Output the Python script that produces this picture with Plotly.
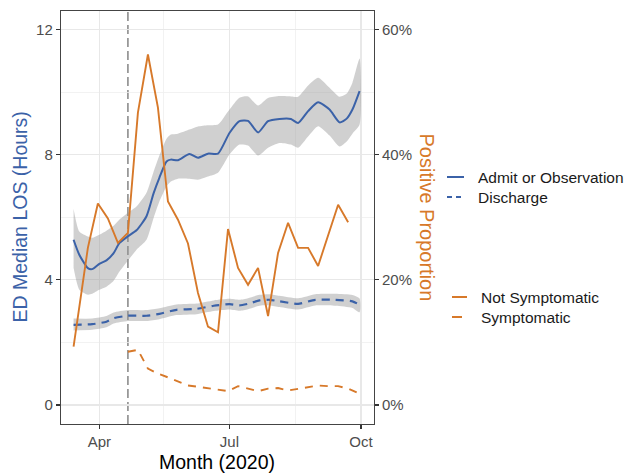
import plotly.graph_objects as go

# ---------------- data ----------------
adm_dates = ["2020-03-14", "2020-03-18", "2020-03-24", "2020-03-27", "2020-04-01", "2020-04-06",
             "2020-04-11", "2020-04-15", "2020-04-21", "2020-04-27", "2020-05-04", "2020-05-09",
             "2020-05-13", "2020-05-18", "2020-05-21", "2020-05-26", "2020-06-03", "2020-06-09",
             "2020-06-16", "2020-06-23", "2020-07-01", "2020-07-08", "2020-07-14", "2020-07-21",
             "2020-07-28", "2020-08-05", "2020-08-13", "2020-08-18", "2020-08-25", "2020-09-01",
             "2020-09-09", "2020-09-16", "2020-09-21", "2020-09-25", "2020-09-30"]
adm_med = [5.28, 4.80, 4.37, 4.34, 4.51, 4.62, 4.85, 5.17, 5.39, 5.58, 6.03, 6.77, 7.26, 7.78, 7.84,
           7.82, 8.02, 7.90, 8.03, 8.03, 8.69, 9.07, 9.08, 8.71, 9.07, 9.14, 9.14, 9.01, 9.39, 9.67,
           9.44, 9.03, 9.15, 9.44, 10.03]
adm_hi = [6.27, 5.54, 5.38, 5.34, 5.44, 5.57, 5.73, 5.92, 6.14, 6.34, 6.78, 7.46, 7.97, 8.51, 8.64,
          8.67, 8.80, 8.90, 8.94, 8.96, 9.44, 9.82, 9.86, 9.57, 9.81, 9.87, 9.86, 9.85, 10.21, 10.46,
          10.14, 9.85, 9.95, 10.30, 11.07]
adm_lo = [4.38, 3.68, 3.52, 3.55, 3.68, 3.78, 3.97, 4.26, 4.61, 4.96, 5.28, 5.98, 6.50, 6.98, 7.14,
          7.23, 7.23, 7.20, 7.30, 7.42, 8.00, 8.32, 8.29, 7.97, 8.22, 8.37, 8.32, 8.22, 8.58, 8.91,
          8.61, 8.26, 8.42, 8.67, 8.96]

dis_dates = ["2020-03-14", "2020-03-27", "2020-04-06", "2020-04-11", "2020-04-21", "2020-05-04",
             "2020-05-13", "2020-05-25", "2020-06-08", "2020-06-20", "2020-07-01", "2020-07-08",
             "2020-07-14", "2020-07-22", "2020-07-29", "2020-08-05", "2020-08-18", "2020-08-30",
             "2020-09-13", "2020-09-25", "2020-09-30"]
dis_med = [2.56, 2.58, 2.66, 2.77, 2.85, 2.85, 2.91, 3.04, 3.07, 3.17, 3.22, 3.18, 3.23, 3.34, 3.36,
           3.31, 3.23, 3.36, 3.36, 3.31, 3.20]
dis_hi = [2.76, 2.76, 2.84, 2.95, 3.03, 3.03, 3.09, 3.21, 3.24, 3.34, 3.39, 3.36, 3.41, 3.52, 3.54,
          3.49, 3.41, 3.54, 3.55, 3.51, 3.40]
dis_lo = [2.38, 2.40, 2.48, 2.60, 2.68, 2.68, 2.74, 2.87, 2.90, 3.00, 3.05, 3.01, 3.06, 3.17, 3.18,
          3.13, 3.05, 3.18, 3.17, 3.10, 2.96]

ns_dates = ["2020-03-14", "2020-03-24", "2020-03-31", "2020-04-07", "2020-04-14", "2020-04-21",
            "2020-04-28", "2020-05-05", "2020-05-12", "2020-05-19", "2020-05-26", "2020-06-02",
            "2020-06-09", "2020-06-16", "2020-06-23", "2020-06-30", "2020-07-07", "2020-07-14",
            "2020-07-21", "2020-07-28", "2020-08-04", "2020-08-11", "2020-08-18", "2020-08-25",
            "2020-09-01", "2020-09-08", "2020-09-15", "2020-09-22"]
ns_prop = [0.093, 0.251, 0.322, 0.298, 0.259, 0.275, 0.467, 0.560, 0.475, 0.325, 0.296, 0.258,
           0.179, 0.125, 0.116, 0.281, 0.219, 0.192, 0.219, 0.142, 0.243, 0.291, 0.251, 0.251,
           0.222, 0.270, 0.320, 0.292]

sy_dates = ["2020-04-21", "2020-04-28", "2020-05-05", "2020-05-12", "2020-05-19", "2020-05-26",
            "2020-06-02", "2020-06-09", "2020-06-16", "2020-06-23", "2020-06-30", "2020-07-07",
            "2020-07-14", "2020-07-21", "2020-07-28", "2020-08-04", "2020-08-11", "2020-08-18",
            "2020-08-25", "2020-09-01", "2020-09-08", "2020-09-15", "2020-09-22", "2020-09-29"]
sy_prop = [0.085, 0.088, 0.058, 0.050, 0.044, 0.037, 0.031, 0.029, 0.027, 0.025, 0.022, 0.030,
           0.026, 0.022, 0.026, 0.027, 0.023, 0.026, 0.028, 0.031, 0.030, 0.030, 0.026, 0.019]

x_tickvals = ["2020-04-01", "2020-07-01", "2020-10-01"]
x_ticktext = ["Apr", "Jul", "Oct"]
x_minor = ["2020-05-16", "2020-08-16"]
y_ticks = [0, 4, 8, 12]
y_minor = [2, 6, 10]
y2_ticks = [0, 0.2, 0.4, 0.6]
y2_ticktext = ["0%", "20%", "40%", "60%"]
cutoff_date = "2020-04-21"

BLUE = "#3B62A8"
ORANGE = "#D7792A"
BAND = "rgba(150,150,150,0.45)"
FONT = "Liberation Sans, Arial, sans-serif"

fig = go.Figure()

# ribbons
fig.add_trace(go.Scatter(x=adm_dates + adm_dates[::-1], y=adm_hi + adm_lo[::-1], fill="toself",
                         fillcolor=BAND, line=dict(width=0, shape="spline", smoothing=0.6),
                         mode="lines", hoverinfo="skip", showlegend=False))
fig.add_trace(go.Scatter(x=dis_dates + dis_dates[::-1], y=dis_hi + dis_lo[::-1], fill="toself",
                         fillcolor=BAND, line=dict(width=0, shape="spline", smoothing=0.6),
                         mode="lines", hoverinfo="skip", showlegend=False))
# blue lines
fig.add_trace(go.Scatter(x=adm_dates, y=adm_med, mode="lines", name="Admit or Observation",
                         line=dict(color=BLUE, width=2, shape="spline", smoothing=0.6),
                         showlegend=False))
fig.add_trace(go.Scatter(x=dis_dates, y=dis_med, mode="lines", name="Discharge",
                         line=dict(color=BLUE, width=2.2, dash="8px,6px", shape="spline", smoothing=0.6),
                         showlegend=False))
# orange lines on secondary axis
fig.add_trace(go.Scatter(x=ns_dates, y=ns_prop, mode="lines", name="Not Symptomatic", yaxis="y2",
                         line=dict(color=ORANGE, width=1.9), showlegend=False))
fig.add_trace(go.Scatter(x=sy_dates, y=sy_prop, mode="lines", name="Symptomatic", yaxis="y2",
                         line=dict(color=ORANGE, width=1.9, dash="8px,7px"), showlegend=False))

# plot area: x 61..374 px, y 11..424 px
L, R, T, B = 61, 374, 11, 424
W, H = R - L, B - T


def px(xp):
    return (xp - L) / W


def py(yp):
    return (B - yp) / H


shapes = [
    dict(type="line", xref="x", yref="paper", x0=cutoff_date, x1=cutoff_date, y0=0, y1=1,
         line=dict(color="#8C8C8C", width=1.6, dash="9px,4px"), layer="between"),
]
# manual legend swatches
legend_items = [
    (447, 464, 177, "Admit or Observation", BLUE, "solid", 476),
    (447, 464, 197, "Discharge", BLUE, "5px,4px", 476),
    (452, 467, 297, "Not Symptomatic", ORANGE, "solid", 479),
    (452, 467, 317, "Symptomatic", ORANGE, "10px,10px", 479),
]
annotations = []
for x0, x1, yy, label, col, dash, tx in legend_items:
    shapes.append(dict(type="line", xref="paper", yref="paper", x0=px(x0), x1=px(x1),
                       y0=py(yy), y1=py(yy), line=dict(color=col, width=2, dash=dash)))
    annotations.append(dict(xref="paper", yref="paper", x=px(tx), y=py(yy), text=label,
                            showarrow=False, xanchor="left", yanchor="middle",
                            font=dict(family=FONT, size=15.5, color="#1A1A1A")))

annotations += [
    dict(xref="paper", yref="paper", x=px(19), y=py(217.5), text="ED Median LOS (Hours)",
         textangle=-90, showarrow=False, xanchor="center", yanchor="middle",
         font=dict(family=FONT, size=19.5, color=BLUE)),
    dict(xref="paper", yref="paper", x=px(427), y=py(217.5), text="Positive Proportion",
         textangle=90, showarrow=False, xanchor="center", yanchor="middle",
         font=dict(family=FONT, size=20, color=ORANGE)),
    dict(xref="paper", yref="paper", x=px(217), y=py(462), text="Month (2020)",
         showarrow=False, xanchor="center", yanchor="middle",
         font=dict(family=FONT, size=19.5, color="#000000")),
]

tickfont = dict(family=FONT, size=15, color="#4D4D4D")
fig.update_layout(
    width=627, height=473, autosize=False,
    margin=dict(l=L, r=627 - R, t=T, b=473 - B),
    paper_bgcolor="white", plot_bgcolor="white",
    font=dict(family=FONT),
    showlegend=False,
    shapes=shapes, annotations=annotations,
    xaxis=dict(type="date", range=["2020-03-05 05:00", "2020-10-10 02:00"],
               tickvals=x_tickvals, ticktext=x_ticktext, tickfont=tickfont,
               ticks="outside", ticklen=4, tickcolor="#333333", tickwidth=1.2,
               showgrid=True, gridcolor="#E8E8E8", gridwidth=1.4,
               minor=dict(tickvals=x_minor, showgrid=True, gridcolor="#EFEFEF", gridwidth=0.8, ticks=""),
               showline=True, linecolor="#444444", linewidth=1.2, mirror=True, zeroline=False),
    yaxis=dict(range=[-0.61, 12.59], tickvals=y_ticks, tickfont=tickfont,
               ticks="outside", ticklen=4, tickcolor="#333333", tickwidth=1.2,
               showgrid=True, gridcolor="#E8E8E8", gridwidth=1.4,
               minor=dict(tickvals=y_minor, showgrid=True, gridcolor="#EFEFEF", gridwidth=0.8, ticks=""),
               showline=True, linecolor="#444444", linewidth=1.2, mirror=True, zeroline=False),
    yaxis2=dict(overlaying="y", side="right", range=[-0.0305, 0.6295], tickvals=y2_ticks,
                ticktext=y2_ticktext, tickfont=tickfont, ticks="outside", ticklen=4,
                tickcolor="#333333", tickwidth=1.2, showgrid=False, zeroline=False, showline=False),
)

fig.write_html("out.html", config={"displayModeBar": False, "staticPlot": True},
               post_script="document.body.style.margin='0px';document.body.style.overflow='hidden';")
